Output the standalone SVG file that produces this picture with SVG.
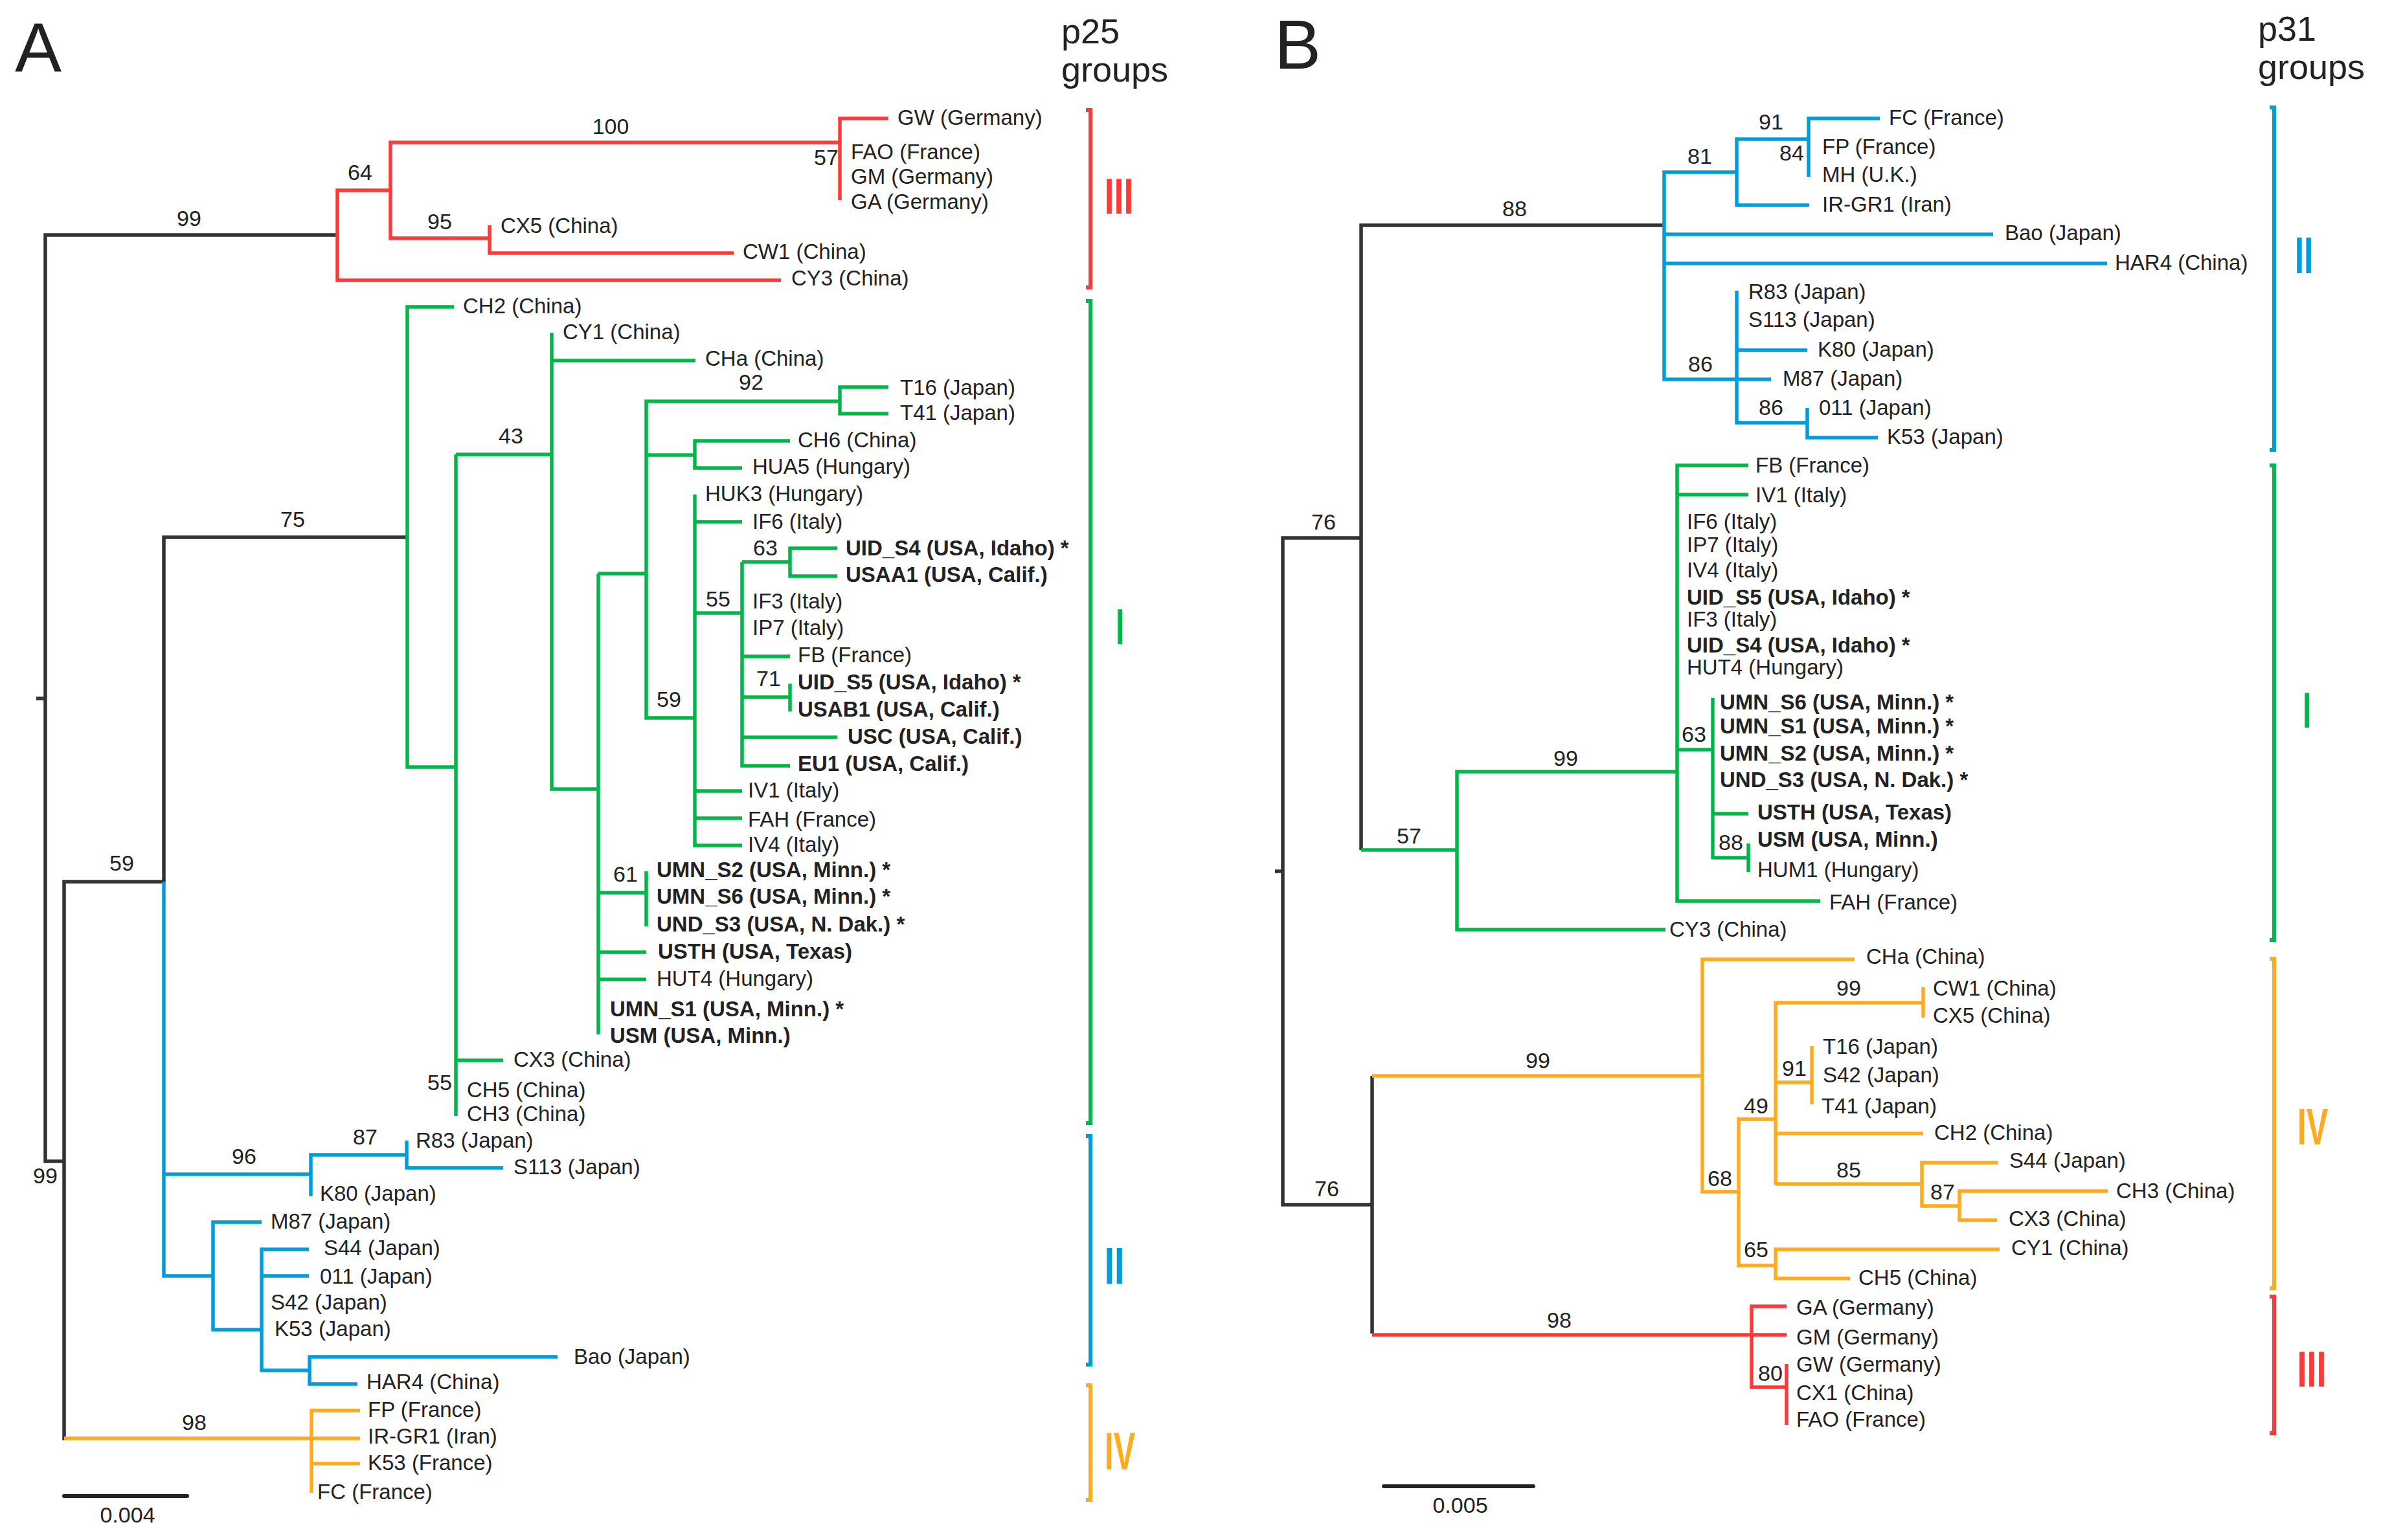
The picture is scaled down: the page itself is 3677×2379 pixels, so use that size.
<svg xmlns="http://www.w3.org/2000/svg" width="3677" height="2379" viewBox="0 0 3677 2379">
<style>
.k{stroke:#333333}.r{stroke:#FF3838}.g{stroke:#00B84A}.b{stroke:#009DDA}.o{stroke:#FFAB1F}
path{fill:none;stroke-width:5.5;stroke-linejoin:miter;stroke-linecap:butt}
path.br{stroke-width:6}
path.sc{stroke-width:6;stroke-linecap:round;stroke:#222}
text{font-family:"Liberation Sans",Arial,Helvetica,sans-serif;fill:#222}
.t{font-size:33px}
.tb{font-size:33px;font-weight:bold}
.n{font-size:34px;text-anchor:middle}
.h{font-size:54px}
.p{font-size:108px}
.rn{font-weight:bold}
.fr{fill:#FF3838}.fg{fill:#00B84A}.fb{fill:#009DDA}.fo{fill:#FFAB1F}
</style>
<rect width="3677" height="2379" fill="#ffffff"/>

<g id="titles">
<text class="p" x="23" y="111">A</text>
<text class="p" x="1968" y="106">B</text>
<text class="h" x="1639" y="67">p25</text>
<text class="h" x="1639" y="126">groups</text>
<text class="h" x="3487" y="63">p31</text>
<text class="h" x="3487" y="122">groups</text>
</g>

<g id="connectors">
<g id="A-branches">
<path class="k" d="M56,1079 H70"/>
<path class="k" d="M520,363 H70 V1794 H99"/>
<path class="k" d="M253,1362 H99 V2225"/>
<path class="k" d="M253,1362 V830 H629"/>
<path class="b" d="M253,1362 V1971 H329"/>
<path class="b" d="M253,1814 H480"/>
<path class="b" d="M480,1848 V1784 H628"/>
<path class="b" d="M628,1762 V1804 H777"/>
<path class="b" d="M404,1888 H329 V2054 H404"/>
<path class="b" d="M477,1930 H404 V2117 H478"/>
<path class="b" d="M404,1971 H477"/>
<path class="b" d="M861,2096 H478 V2138 H552"/>
<path class="o" d="M99,2222 H481"/>
<path class="o" d="M556,2179 H481 V2306"/>
<path class="o" d="M481,2222 H556"/>
<path class="o" d="M481,2261 H556"/>
<path class="r" d="M603,294 H521 V433 H1206"/>
<path class="r" d="M1297,220 H603 V368 H756"/>
<path class="r" d="M756,348 V391 H1133"/>
<path class="r" d="M1372,183 H1297 V309"/>
<path class="g" d="M701,474 H629 V1185 H704"/>
<path class="g" d="M704,702 V1724"/>
<path class="g" d="M704,702 H852"/>
<path class="g" d="M704,1638 H777"/>
<path class="g" d="M852,514 V1219 H924"/>
<path class="g" d="M852,557 H1074"/>
<path class="g" d="M924,886 V1598"/>
<path class="g" d="M924,886 H998"/>
<path class="g" d="M924,1379 H998"/>
<path class="g" d="M924,1471 H998"/>
<path class="g" d="M924,1513 H998"/>
<path class="g" d="M998,1346 V1431"/>
<path class="g" d="M1297,620 H998 V1109 H1073"/>
<path class="g" d="M998,703 H1073"/>
<path class="g" d="M1372,598 H1297 V639 H1372"/>
<path class="g" d="M1220,681 H1073 V723 H1146"/>
<path class="g" d="M1073,764 V1306 H1146"/>
<path class="g" d="M1073,806 H1146"/>
<path class="g" d="M1073,947 H1146"/>
<path class="g" d="M1073,1222 H1146"/>
<path class="g" d="M1073,1264 H1146"/>
<path class="g" d="M1146,868 V1183 H1220"/>
<path class="g" d="M1146,868 H1220"/>
<path class="g" d="M1146,1014 H1220"/>
<path class="g" d="M1146,1077 H1220"/>
<path class="g" d="M1146,1139 H1293"/>
<path class="g" d="M1293,847 H1220 V890 H1293"/>
<path class="g" d="M1220,1056 V1099"/>
</g>
<g id="B-branches">
<path class="k" d="M1969,1346 H1981"/>
<path class="k" d="M2102,831 H1981 V1861 H2119"/>
<path class="k" d="M2570,348 H2102 V1313"/>
<path class="k" d="M2119,1662 V2060"/>
<path class="b" d="M2682,266 H2570 V586 H2735"/>
<path class="b" d="M2570,362 H3078"/>
<path class="b" d="M2570,407 H3254"/>
<path class="b" d="M2793,215 H2682 V317 H2794"/>
<path class="b" d="M2903,183 H2793 V273"/>
<path class="b" d="M2682,449 V653 H2791"/>
<path class="b" d="M2682,541 H2791"/>
<path class="b" d="M2791,630 V676 H2900"/>
<path class="g" d="M2102,1313 H2250"/>
<path class="g" d="M2590,1192 H2250 V1436 H2572"/>
<path class="g" d="M2700,719 H2590 V1392 H2811"/>
<path class="g" d="M2590,764 H2700"/>
<path class="g" d="M2590,1158 H2645"/>
<path class="g" d="M2645,1078 V1327"/>
<path class="g" d="M2645,1257 H2700"/>
<path class="g" d="M2645,1325 H2700"/>
<path class="g" d="M2700,1303 V1347"/>
<path class="o" d="M2119,1662 H2629"/>
<path class="o" d="M2864,1482 H2629 V1841 H2685"/>
<path class="o" d="M2742,1729 H2685 V1955 H2742"/>
<path class="o" d="M2970,1549 H2742 V1830"/>
<path class="o" d="M2742,1829 H2968"/>
<path class="o" d="M2742,1672 H2798"/>
<path class="o" d="M2742,1751 H2970"/>
<path class="o" d="M2970,1525 V1572"/>
<path class="o" d="M2798,1616 V1706"/>
<path class="o" d="M3085,1796 H2968 V1863 H3026"/>
<path class="o" d="M3255,1840 H3026 V1885 H3084"/>
<path class="o" d="M3088,1930 H2742 V1975 H2857"/>
<path class="r" d="M2119,2062 H2759"/>
<path class="r" d="M2759,2018 H2705 V2143 H2759"/>
<path class="r" d="M2759,2107 V2201"/>
</g>
</g>

<g id="brackets">
<path class="br r" d="M1677,170 H1684 V444 H1677"/>
<path class="br g" d="M1677,465 H1684 V1735 H1677"/>
<path class="br b" d="M1677,1755 H1684 V2108 H1677"/>
<path class="br o" d="M1677,2140 H1684 V2317 H1677"/>
<path class="br b" d="M3505,166 H3512 V695 H3505"/>
<path class="br g" d="M3505,719 H3512 V1452 H3505"/>
<path class="br o" d="M3505,1481 H3512 V1990 H3505"/>
<path class="br r" d="M3505,2003 H3512 V2214 H3505"/>
</g>

<g id="group-labels">
<g id="A-grp-III"><text class="rn fr" font-size="78" transform="translate(1705.5,330) scale(0.69,1)">III</text></g>
<g id="A-grp-I"><text class="rn fg" font-size="77" transform="translate(1723,995) scale(0.62,1)">I</text></g>
<g id="A-grp-II"><text class="rn fb" font-size="80" transform="translate(1705.4,1983) scale(0.70,1)">II</text></g>
<g id="A-grp-IV"><text class="rn fo" font-size="81" transform="translate(1705.7,2270) scale(0.62,1)">IV</text></g>
<g id="B-grp-II"><text class="rn fb" font-size="80" transform="translate(3543.7,422) scale(0.645,1)">II</text></g>
<g id="B-grp-I"><text class="rn fg" font-size="78" transform="translate(3556,1124) scale(0.62,1)">I</text></g>
<g id="B-grp-IV"><text class="rn fo" font-size="80" transform="translate(3547.7,1768) scale(0.63,1)">IV</text></g>
<g id="B-grp-III"><text class="rn fr" font-size="78" transform="translate(3547.5,2142) scale(0.69,1)">III</text></g>
</g>

<g id="scale-bars">
<path class="sc" d="M99,2311 H289"/>
<text class="n" x="197" y="2352">0.004</text>
<path class="sc" d="M2137,2296 H2368"/>
<text class="n" x="2255" y="2337">0.005</text>
</g>

<g id="A-support">
<text class="n" x="292" y="349">99</text>
<text class="n" x="556" y="278">64</text>
<text class="n" x="943" y="207">100</text>
<text class="n" x="1276" y="255">57</text>
<text class="n" x="679" y="354">95</text>
<text class="n" x="789" y="685">43</text>
<text class="n" x="1160" y="602">92</text>
<text class="n" x="452" y="814">75</text>
<text class="n" x="1182" y="858">63</text>
<text class="n" x="1109" y="937">55</text>
<text class="n" x="1187" y="1060">71</text>
<text class="n" x="1033" y="1092">59</text>
<text class="n" x="966" y="1362">61</text>
<text class="n" x="188" y="1345">59</text>
<text class="n" x="679" y="1684">55</text>
<text class="n" x="564" y="1768">87</text>
<text class="n" x="377" y="1798">96</text>
<text class="n" x="70" y="1828">99</text>
<text class="n" x="300" y="2209">98</text>
</g>

<g id="B-support">
<text class="n" x="2735" y="200">91</text>
<text class="n" x="2625" y="253">81</text>
<text class="n" x="2767" y="248">84</text>
<text class="n" x="2339" y="334">88</text>
<text class="n" x="2626" y="574">86</text>
<text class="n" x="2735" y="641">86</text>
<text class="n" x="2044" y="818">76</text>
<text class="n" x="2418" y="1183">99</text>
<text class="n" x="2616" y="1146">63</text>
<text class="n" x="2673" y="1313">88</text>
<text class="n" x="2176" y="1303">57</text>
<text class="n" x="2375" y="1650">99</text>
<text class="n" x="2855" y="1538">99</text>
<text class="n" x="2771" y="1662">91</text>
<text class="n" x="2712" y="1720">49</text>
<text class="n" x="2656" y="1832">68</text>
<text class="n" x="2855" y="1819">85</text>
<text class="n" x="3000" y="1853">87</text>
<text class="n" x="2712" y="1942">65</text>
<text class="n" x="2049" y="1848">76</text>
<text class="n" x="2408" y="2051">98</text>
<text class="n" x="2734" y="2133">80</text>
</g>

<g id="A-taxa">
<g id="A-GW"><text class="t" x="1386" y="193">GW (Germany)</text></g>
<g id="A-FAO"><text class="t" x="1314" y="246">FAO (France)</text></g>
<g id="A-GM"><text class="t" x="1314" y="284">GM (Germany)</text></g>
<g id="A-GA"><text class="t" x="1314" y="323">GA (Germany)</text></g>
<g id="A-CX5"><text class="t" x="773" y="360">CX5 (China)</text></g>
<g id="A-CW1"><text class="t" x="1147" y="400">CW1 (China)</text></g>
<g id="A-CY3"><text class="t" x="1222" y="441">CY3 (China)</text></g>
<g id="A-CH2"><text class="t" x="715" y="484">CH2 (China)</text></g>
<g id="A-CY1"><text class="t" x="869" y="524">CY1 (China)</text></g>
<g id="A-CHa"><text class="t" x="1089" y="565">CHa (China)</text></g>
<g id="A-T16"><text class="t" x="1390" y="610">T16 (Japan)</text></g>
<g id="A-T41"><text class="t" x="1390" y="649">T41 (Japan)</text></g>
<g id="A-CH6"><text class="t" x="1232" y="691">CH6 (China)</text></g>
<g id="A-HUA5"><text class="t" x="1162" y="732">HUA5 (Hungary)</text></g>
<g id="A-HUK3"><text class="t" x="1089" y="774">HUK3 (Hungary)</text></g>
<g id="A-IF6"><text class="t" x="1162" y="817">IF6 (Italy)</text></g>
<g id="A-UID_S4"><text class="tb" x="1306" y="858">UID_S4 (USA, Idaho) *</text></g>
<g id="A-USAA1"><text class="tb" x="1306" y="899">USAA1 (USA, Calif.)</text></g>
<g id="A-IF3"><text class="t" x="1162" y="940">IF3 (Italy)</text></g>
<g id="A-IP7"><text class="t" x="1162" y="981">IP7 (Italy)</text></g>
<g id="A-FB"><text class="t" x="1232" y="1023">FB (France)</text></g>
<g id="A-UID_S5"><text class="tb" x="1232" y="1065">UID_S5 (USA, Idaho) *</text></g>
<g id="A-USAB1"><text class="tb" x="1232" y="1107">USAB1 (USA, Calif.)</text></g>
<g id="A-USC"><text class="tb" x="1309" y="1149">USC (USA, Calif.)</text></g>
<g id="A-EU1"><text class="tb" x="1232" y="1191">EU1 (USA, Calif.)</text></g>
<g id="A-IV1"><text class="t" x="1155" y="1232">IV1 (Italy)</text></g>
<g id="A-FAH"><text class="t" x="1155" y="1277">FAH (France)</text></g>
<g id="A-IV4"><text class="t" x="1155" y="1316">IV4 (Italy)</text></g>
<g id="A-UMN_S2"><text class="tb" x="1014" y="1355">UMN_S2 (USA, Minn.) *</text></g>
<g id="A-UMN_S6"><text class="tb" x="1014" y="1396">UMN_S6 (USA, Minn.) *</text></g>
<g id="A-UND_S3"><text class="tb" x="1014" y="1439">UND_S3 (USA, N. Dak.) *</text></g>
<g id="A-USTH"><text class="tb" x="1016" y="1481">USTH (USA, Texas)</text></g>
<g id="A-HUT4"><text class="t" x="1014" y="1523">HUT4 (Hungary)</text></g>
<g id="A-UMN_S1"><text class="tb" x="942" y="1570">UMN_S1 (USA, Minn.) *</text></g>
<g id="A-USM"><text class="tb" x="942" y="1611">USM (USA, Minn.)</text></g>
<g id="A-CX3"><text class="t" x="793" y="1648">CX3 (China)</text></g>
<g id="A-CH5"><text class="t" x="721" y="1695">CH5 (China)</text></g>
<g id="A-CH3"><text class="t" x="721" y="1732">CH3 (China)</text></g>
<g id="A-R83"><text class="t" x="642" y="1773">R83 (Japan)</text></g>
<g id="A-S113"><text class="t" x="793" y="1814">S113 (Japan)</text></g>
<g id="A-K80"><text class="t" x="494" y="1855">K80 (Japan)</text></g>
<g id="A-M87"><text class="t" x="418" y="1898">M87 (Japan)</text></g>
<g id="A-S44"><text class="t" x="500" y="1939">S44 (Japan)</text></g>
<g id="A-011"><text class="t" x="494" y="1983">011 (Japan)</text></g>
<g id="A-S42"><text class="t" x="418" y="2023">S42 (Japan)</text></g>
<g id="A-K53J"><text class="t" x="424" y="2064">K53 (Japan)</text></g>
<g id="A-Bao"><text class="t" x="886" y="2107">Bao (Japan)</text></g>
<g id="A-HAR4"><text class="t" x="566" y="2146">HAR4 (China)</text></g>
<g id="A-FP"><text class="t" x="568" y="2189">FP (France)</text></g>
<g id="A-IR-GR1"><text class="t" x="568" y="2230">IR-GR1 (Iran)</text></g>
<g id="A-K53F"><text class="t" x="568" y="2271">K53 (France)</text></g>
<g id="A-FC"><text class="t" x="490" y="2316">FC (France)</text></g>
</g>

<g id="B-taxa">
<g id="B-FC"><text class="t" x="2917" y="193">FC (France)</text></g>
<g id="B-FP"><text class="t" x="2814" y="238">FP (France)</text></g>
<g id="B-MH"><text class="t" x="2814" y="281">MH (U.K.)</text></g>
<g id="B-IR-GR1"><text class="t" x="2814" y="327">IR-GR1 (Iran)</text></g>
<g id="B-Bao"><text class="t" x="3096" y="371">Bao (Japan)</text></g>
<g id="B-HAR4"><text class="t" x="3266" y="417">HAR4 (China)</text></g>
<g id="B-R83"><text class="t" x="2700" y="462">R83 (Japan)</text></g>
<g id="B-S113"><text class="t" x="2700" y="505">S113 (Japan)</text></g>
<g id="B-K80"><text class="t" x="2807" y="551">K80 (Japan)</text></g>
<g id="B-M87"><text class="t" x="2753" y="596">M87 (Japan)</text></g>
<g id="B-011"><text class="t" x="2809" y="641">011 (Japan)</text></g>
<g id="B-K53"><text class="t" x="2914" y="686">K53 (Japan)</text></g>
<g id="B-FB"><text class="t" x="2711" y="730">FB (France)</text></g>
<g id="B-IV1"><text class="t" x="2711" y="776">IV1 (Italy)</text></g>
<g id="B-IF6"><text class="t" x="2605" y="817">IF6 (Italy)</text></g>
<g id="B-IP7"><text class="t" x="2605" y="853">IP7 (Italy)</text></g>
<g id="B-IV4"><text class="t" x="2605" y="892">IV4 (Italy)</text></g>
<g id="B-UID_S5"><text class="tb" x="2605" y="934">UID_S5 (USA, Idaho) *</text></g>
<g id="B-IF3"><text class="t" x="2605" y="968">IF3 (Italy)</text></g>
<g id="B-UID_S4"><text class="tb" x="2605" y="1008">UID_S4 (USA, Idaho) *</text></g>
<g id="B-HUT4"><text class="t" x="2605" y="1042">HUT4 (Hungary)</text></g>
<g id="B-UMN_S6"><text class="tb" x="2656" y="1096">UMN_S6 (USA, Minn.) *</text></g>
<g id="B-UMN_S1"><text class="tb" x="2656" y="1133">UMN_S1 (USA, Minn.) *</text></g>
<g id="B-UMN_S2"><text class="tb" x="2656" y="1175">UMN_S2 (USA, Minn.) *</text></g>
<g id="B-UND_S3"><text class="tb" x="2656" y="1216">UND_S3 (USA, N. Dak.) *</text></g>
<g id="B-USTH"><text class="tb" x="2714" y="1266">USTH (USA, Texas)</text></g>
<g id="B-USM"><text class="tb" x="2714" y="1308">USM (USA, Minn.)</text></g>
<g id="B-HUM1"><text class="t" x="2714" y="1355">HUM1 (Hungary)</text></g>
<g id="B-FAH"><text class="t" x="2825" y="1405">FAH (France)</text></g>
<g id="B-CY3"><text class="t" x="2578" y="1447">CY3 (China)</text></g>
<g id="B-CHa"><text class="t" x="2882" y="1489">CHa (China)</text></g>
<g id="B-CW1"><text class="t" x="2985" y="1538">CW1 (China)</text></g>
<g id="B-CX5"><text class="t" x="2985" y="1580">CX5 (China)</text></g>
<g id="B-T16"><text class="t" x="2815" y="1628">T16 (Japan)</text></g>
<g id="B-S42"><text class="t" x="2815" y="1672">S42 (Japan)</text></g>
<g id="B-T41"><text class="t" x="2813" y="1720">T41 (Japan)</text></g>
<g id="B-CH2"><text class="t" x="2987" y="1761">CH2 (China)</text></g>
<g id="B-S44"><text class="t" x="3103" y="1804">S44 (Japan)</text></g>
<g id="B-CH3"><text class="t" x="3268" y="1851">CH3 (China)</text></g>
<g id="B-CX3"><text class="t" x="3102" y="1894">CX3 (China)</text></g>
<g id="B-CY1"><text class="t" x="3106" y="1939">CY1 (China)</text></g>
<g id="B-CH5"><text class="t" x="2870" y="1985">CH5 (China)</text></g>
<g id="B-GA"><text class="t" x="2774" y="2031">GA (Germany)</text></g>
<g id="B-GM"><text class="t" x="2774" y="2077">GM (Germany)</text></g>
<g id="B-GW"><text class="t" x="2774" y="2119">GW (Germany)</text></g>
<g id="B-CX1"><text class="t" x="2774" y="2163">CX1 (China)</text></g>
<g id="B-FAO"><text class="t" x="2774" y="2204">FAO (France)</text></g>
</g>
</svg>
